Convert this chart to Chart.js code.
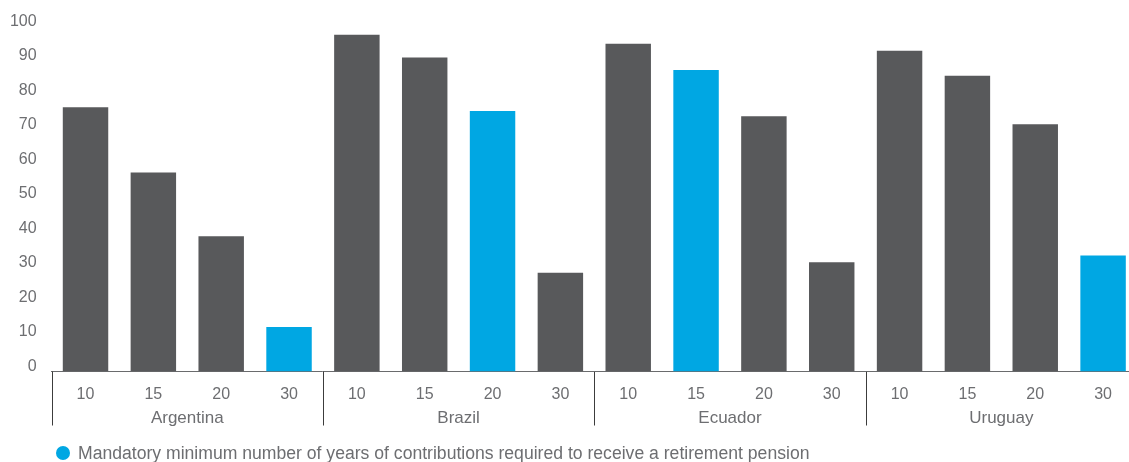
<!DOCTYPE html>
<html>
<head>
<meta charset="utf-8">
<script src="https://cdn.jsdelivr.net/npm/chart.js@4/dist/chart.umd.min.js"></script>
<style>
  html, body { margin: 0; padding: 0; overflow: hidden; background: #fff; }
  #wrap { position: relative; width: 1150px; height: 462px; }
  #legend {
    position: absolute; left: 56px; top: 443px; height: 20px;
    display: flex; align-items: center;
    font-family: "Liberation Sans", Arial, Helvetica, sans-serif;
    font-size: 17.6px; color: #6d6e71; white-space: nowrap;
  }
  #legend .dot {
    display: inline-block; width: 14px; height: 14px; border-radius: 50%;
    background: #00a7e3; margin-right: 8px;
  }
</style>
</head>
<body>
<div id="wrap">
  <canvas id="c"></canvas>
  <div id="legend"><span class="dot"></span><span id="legendText"></span></div>
</div>
<script>
// Countries and the contribution-year thresholds shown for each
const countries = ['Argentina', 'Brazil', 'Ecuador', 'Uruguay'];
const years = ['10', '15', '20', '30'];

// Share (%) per country, in the order of `years`
const argentina = [76.6, 57.7, 39.2, 12.9];
const brazil    = [97.6, 91.0, 75.5, 28.6];
const ecuador   = [95.0, 87.4, 74.0, 31.7];
const uruguay   = [93.0, 85.7, 71.7, 33.6];

// Legally required minimum years of contributions in each country
const mandatoryYears = ['30', '20', '15', '30'];

const yTicks = [0, 10, 20, 30, 40, 50, 60, 70, 80, 90, 100];
const legendText = 'Mandatory minimum number of years of contributions required to receive a retirement pension';

const DARK = '#58595b';
const BLUE = '#00a7e3';
const TEXT = '#6d6e71';
const FAMILY = '"Liberation Sans", Arial, Helvetica, sans-serif';
const NUM_FONT = { family: FAMILY, size: 16 };
const WORD_FONT = { family: FAMILY, size: 17 };

document.getElementById('legendText').textContent = legendText;

const labels = countries.flatMap(() => years);
const values = [argentina, brazil, ecuador, uruguay].flat();
const colors = countries.flatMap((c, i) => years.map(y => y === mandatoryYears[i] ? BLUE : DARK));

// Vertical dividers between the country groups, running below the category axis
const groupLines = {
  id: 'groupLines',
  afterDraw(chart) {
    const xs = chart.scales.x;
    const ctx = chart.ctx;
    const top = chart.chartArea.bottom;
    const bottom = top + 54;
    ctx.save();
    ctx.strokeStyle = '#3c3c3c';
    ctx.lineWidth = 1;
    for (let g = 0; g <= countries.length; g++) {
      const px = Math.round(xs.getPixelForValue(g * years.length - 0.5)) + 0.5;
      ctx.beginPath();
      ctx.moveTo(px, top);
      ctx.lineTo(px, bottom);
      ctx.stroke();
    }
    ctx.restore();
  }
};

new Chart(document.getElementById('c'), {
  type: 'bar',
  data: {
    labels: labels,
    datasets: [{
      data: values,
      backgroundColor: colors,
      borderWidth: 0,
      categoryPercentage: 1,
      barPercentage: 0.67
    }]
  },
  options: {
    responsive: true,
    maintainAspectRatio: false,
    animation: false,
    layout: { padding: { left: 0, right: 13, top: 26.5, bottom: 34.5 } },
    scales: {
      y: {
        min: 0,
        max: 100,
        afterBuildTicks: s => { s.ticks = yTicks.map(v => ({ value: v })); },
        afterFit: s => { s.width = 51.6; },
        grid: { display: false },
        border: { display: false },
        ticks: { color: TEXT, font: NUM_FONT, padding: 7, labelOffset: -5 }
      },
      x: {
        offset: true,
        grid: { display: false },
        border: { display: true, color: '#6a6b6d', width: 1 },
        afterFit: s => { s.height = 28; },
        ticks: { color: TEXT, font: NUM_FONT, padding: 5, maxRotation: 0, autoSkip: false }
      },
      x2: {
        type: 'category',
        position: 'bottom',
        labels: countries,
        offset: true,
        grid: { display: false },
        border: { display: false },
        afterFit: s => { s.height = 28; },
        ticks: { color: TEXT, font: WORD_FONT, padding: 1, maxRotation: 0, autoSkip: false }
      }
    },
    plugins: {
      tooltip: { enabled: false },
      legend: { display: false }
    }
  },
  plugins: [groupLines]
});
</script>
</body>
</html>
